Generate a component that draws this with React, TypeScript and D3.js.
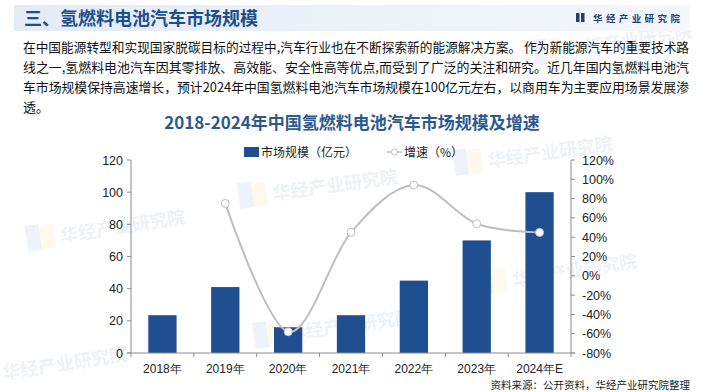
import React from "react";
import * as d3 from "d3";

const years = ["2018年", "2019年", "2020年", "2021年", "2022年", "2023年", "2024年E"];
const marketSize = [23.5, 41, 16, 23.5, 45, 70, 100];
const growth = [null, 75, -58, 45, 94, 54, 45];
const leftTicks = [0, 20, 40, 60, 80, 100, 120];
const rightTicks = [-80, -60, -40, -20, 0, 20, 40, 60, 80, 100, 120];

const paragraph = [
  "在中国能源转型和实现国家脱碳目标的过程中,汽车行业也在不断探索新的能源解决方案。 作为新能源汽车的重要技术路",
  "线之一,氢燃料电池汽车因其零排放、高效能、安全性高等优点,而受到了广泛的关注和研究。近几年国内氢燃料电池汽",
  "车市场规模保持高速增长，预计2024年中国氢燃料电池汽车市场规模在100亿元左右，以商用车为主要应用场景发展渗",
  "透。",
];

const CJK = "'Noto Sans CJK SC', 'Microsoft YaHei', sans-serif";
const LAT = "'Liberation Sans', Arial, sans-serif";

const W = 705;
const H = 392;
const plot = { left: 131, right: 571, top: 160, bottom: 353 };

// faint watermark positions
const marks = [
  { x: 28, y: 248, r: -9 },
  { x: 240, y: 205, r: -8 },
  { x: 455, y: 172, r: -8 },
  { x: 255, y: 345, r: -8 },
  { x: 480, y: 292, r: -9 },
  { x: 535, y: 62, r: -9 },
  { x: -30, y: 385, r: -9 },
];

export default function App() {
  const x = d3
    .scaleBand<string>()
    .domain(years)
    .range([plot.left, plot.right])
    .paddingInner(0.55)
    .paddingOuter(0.275);
  const yL = d3.scaleLinear().domain([0, 120]).range([plot.bottom, plot.top]);
  const yR = d3.scaleLinear().domain([-80, 120]).range([plot.bottom, plot.top]);

  const pts = years
    .map((yr, i) => ({ yr, v: growth[i] }))
    .filter((d) => d.v !== null) as { yr: string; v: number }[];
  const line = d3
    .line<{ yr: string; v: number }>()
    .x((d) => (x(d.yr) as number) + x.bandwidth() / 2)
    .y((d) => yR(d.v))
    .curve(d3.curveCardinal.tension(0));

  const step = x.step();
  const gray = "#8c8c8c";

  return (
    <svg
      width={W}
      height={H}
      style={{ position: "absolute", left: 0, top: 0, background: "#fff" }}
    >
      <defs>
        <linearGradient id="hdr" x1="0" x2="1" y1="0" y2="0">
          <stop offset="0" stopColor="#e3ebf7" />
          <stop offset="0.6" stopColor="#eef3fa" />
          <stop offset="1" stopColor="#f4f7fc" />
        </linearGradient>
      </defs>

      {/* watermarks */}
      {marks.map((m, i) => (
        <g key={i} transform={`translate(${m.x},${m.y}) rotate(${m.r})`} opacity={0.3}>
          <rect x={0} y={-22} width={14} height={26} fill="#c9d6ee" />
          <rect x={14} y={-20} width={14} height={24} fill="#fbefc4" />
          <text x={34} y={0} fontFamily={CJK} fontWeight="bold" fontSize={18} fill="#c8d2e2">
            华经产业研究院
          </text>
        </g>
      ))}

      {/* header */}
      <rect x={14} y={5} width={676} height={26} fill="url(#hdr)" />
      <text x={24} y={25} fontFamily={CJK} fontWeight="bold" fontSize={18} fill="#1f4e8c">
        三、氢燃料电池汽车市场规模
      </text>
      <rect x={576} y={13} width={3.5} height={9} fill="#1f3f7a" />
      <rect x={581} y={13} width={3.5} height={9} fill="#1f3f7a" />
      <text
        x={593}
        y={21.5}
        fontFamily={CJK}
        fontWeight="bold"
        fontSize={9.5}
        letterSpacing={3.4}
        fill="#1f3f7a"
      >
        华经产业研究院
      </text>

      {/* paragraph */}
      {paragraph.map((t, i) => (
        <text
          key={i}
          x={23}
          y={52 + i * 20}
          fontFamily={CJK}
          fontSize={13}
          fill="#111"
          textLength={i < 3 ? 666 : undefined}
          lengthAdjust="spacingAndGlyphs"
        >
          {t}
        </text>
      ))}

      {/* chart title */}
      <text
        x={352}
        y={129}
        textAnchor="middle"
        fontFamily={CJK}
        fontWeight="bold"
        fontSize={17}
        fill="#2d5a8e"
      >
        2018-2024年中国氢燃料电池汽车市场规模及增速
      </text>

      {/* legend */}
      <rect x={244} y={147} width={15} height={10} fill="#1f4e91" />
      <text x={261} y={156.5} fontFamily={CJK} fontSize={12} fill="#222">
        市场规模（亿元）
      </text>
      <line x1={387} x2={402} y1={152} y2={152} stroke="#bfbfbf" strokeWidth={1.5} />
      <circle cx={394.5} cy={152} r={3} fill="#fff" stroke="#bfbfbf" strokeWidth={1} />
      <text x={404} y={156.5} fontFamily={CJK} fontSize={12} fill="#222">
        增速（%）
      </text>

      {/* bars */}
      {years.map((yr, i) => (
        <rect
          key={yr}
          x={x(yr)}
          y={yL(marketSize[i])}
          width={x.bandwidth()}
          height={plot.bottom - yL(marketSize[i])}
          fill="#1f4e91"
        />
      ))}

      {/* axes */}
      <line x1={plot.left} x2={plot.left} y1={plot.top} y2={plot.bottom} stroke={gray} />
      <line x1={plot.right} x2={plot.right} y1={plot.top} y2={plot.bottom} stroke={gray} />
      <line x1={plot.left - 4} x2={plot.right + 4} y1={plot.bottom} y2={plot.bottom} stroke={gray} />
      {leftTicks.map((t) => (
        <g key={t}>
          <line x1={plot.left - 4} x2={plot.left} y1={yL(t)} y2={yL(t)} stroke={gray} />
          <text
            x={plot.left - 8}
            y={yL(t) + 4.5}
            textAnchor="end"
            fontFamily={LAT}
            fontSize={12.5}
            fill="#222"
          >
            {t}
          </text>
        </g>
      ))}
      {rightTicks.map((t) => (
        <g key={t}>
          <line x1={plot.right} x2={plot.right + 4} y1={yR(t)} y2={yR(t)} stroke={gray} />
          <text x={plot.right + 11} y={yR(t) + 4.5} fontFamily={LAT} fontSize={12.5} fill="#222">
            {t}%
          </text>
        </g>
      ))}
      {d3.range(years.length + 1).map((i) => (
        <line
          key={i}
          x1={plot.left + i * step}
          x2={plot.left + i * step}
          y1={plot.bottom}
          y2={plot.bottom + 4}
          stroke={gray}
        />
      ))}
      {years.map((yr) => (
        <text
          key={yr}
          x={(x(yr) as number) + x.bandwidth() / 2}
          y={373}
          textAnchor="middle"
          fontFamily={LAT}
          fontSize={12}
          fill="#222"
        >
          {yr}
        </text>
      ))}

      {/* growth line */}
      <path d={line(pts) || ""} fill="none" stroke="#bfbfbf" strokeWidth={2} />
      {pts.map((d) => (
        <circle
          key={d.yr}
          cx={(x(d.yr) as number) + x.bandwidth() / 2}
          cy={yR(d.v)}
          r={4}
          fill="#fff"
          stroke="#bfbfbf"
          strokeWidth={1}
        />
      ))}

      {/* source */}
      <text x={690} y={389} textAnchor="end" fontFamily={CJK} fontSize={10.5} fill="#222">
        资料来源：公开资料，华经产业研究院整理
      </text>
    </svg>
  );
}
